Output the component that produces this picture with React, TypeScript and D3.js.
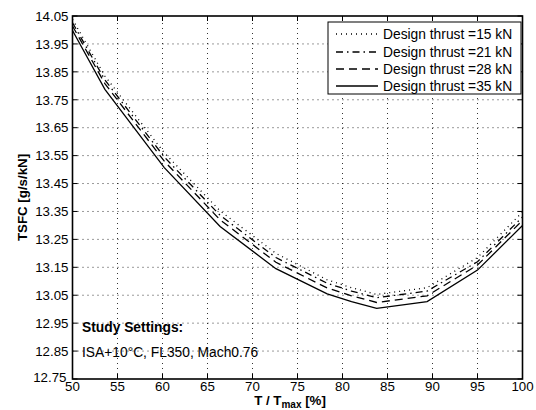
import React from "react";
import * as d3 from "d3";

const thrustPct = [50, 53.6, 60.2, 66.4, 72.6, 78.3, 81, 83.8, 89.4, 95, 100];
const tsfc15 = [14.038, 13.835, 13.56, 13.352, 13.2, 13.105, 13.077, 13.053, 13.077, 13.185, 13.348];
const tsfc21 = [14.026, 13.821, 13.545, 13.336, 13.185, 13.093, 13.065, 13.041, 13.065, 13.17, 13.33];
const tsfc28 = [14.014, 13.808, 13.53, 13.32, 13.168, 13.076, 13.048, 13.024, 13.048, 13.158, 13.318];
const tsfc35 = [13.998, 13.787, 13.507, 13.296, 13.145, 13.055, 13.027, 13.003, 13.027, 13.14, 13.3];

const seriesNames = ["Design thrust =15 kN", "Design thrust =21 kN", "Design thrust =28 kN", "Design thrust =35 kN"];
const seriesValues = [tsfc15, tsfc21, tsfc28, tsfc35];
const seriesDash = ["1,4", "7,4,1.5,4", "8,5", ""];

const xTicks = [50, 55, 60, 65, 70, 75, 80, 85, 90, 95, 100];
const yTicks = [12.75, 12.85, 12.95, 13.05, 13.15, 13.25, 13.35, 13.45, 13.55, 13.65, 13.75, 13.85, 13.95, 14.05];

const W = 536, H = 410;
const L = 72.5, R = 522.5, T = 16, B = 379;
const FONT = "'Liberation Sans', Arial, Helvetica, sans-serif";

export default function App() {
  const x = d3.scaleLinear().domain([50, 100]).range([L, R]);
  const y = d3.scaleLinear().domain([12.75, 14.05]).range([B, T]);
  const line = d3.line<number>().x((_, i) => x(thrustPct[i])).y((v) => y(v));
  const tickLen = 5;
  const legX = 328, legY = 22, legW = 193, legH = 72;
  const legRows = [34, 52, 69, 86];

  return (
    <svg width={W} height={H} style={{ position: "absolute", left: 0, top: 0, background: "#fff" }} fontFamily={FONT}>
      <rect x={0} y={0} width={W} height={H} fill="#fff" />
      {/* grid */}
      {xTicks.slice(1, -1).map((t) => (
        <line key={"gx" + t} x1={x(t)} x2={x(t)} y1={B} y2={T} stroke="#000" strokeWidth={0.8} strokeDasharray="1,4" />
      ))}
      {yTicks.slice(1, -1).map((t) => (
        <line key={"gy" + t} x1={L} x2={R} y1={y(t)} y2={y(t)} stroke="#000" strokeWidth={0.8} strokeDasharray="1,4" />
      ))}
      {/* ticks */}
      {xTicks.map((t) => (
        <g key={"tx" + t}>
          <line x1={x(t)} x2={x(t)} y1={B} y2={B - tickLen} stroke="#000" strokeWidth={1} />
          <line x1={x(t)} x2={x(t)} y1={T} y2={T + tickLen} stroke="#000" strokeWidth={1} />
          <text x={x(t)} y={B + 11.5} fontSize={13.3} textAnchor="middle">{t}</text>
        </g>
      ))}
      {yTicks.map((t) => (
        <g key={"ty" + t}>
          <line x1={L} x2={L + tickLen} y1={y(t)} y2={y(t)} stroke="#000" strokeWidth={1} />
          <line x1={R} x2={R - tickLen} y1={y(t)} y2={y(t)} stroke="#000" strokeWidth={1} />
          <text x={t === 12.75 ? L - 6 : L - 4} y={y(t) + (t === 12.75 ? 2.5 : 4.8)} fontSize={13.3} textAnchor="end">{t.toFixed(2)}</text>
        </g>
      ))}
      {/* curves */}
      {seriesValues.map((vals, i) => (
        <path key={"s" + i} d={line(vals) || ""} fill="none" stroke="#000" strokeWidth={1.3}
          strokeDasharray={seriesDash[i] || undefined} />
      ))}
      {/* frame */}
      <rect x={L} y={T} width={R - L} height={B - T} fill="none" stroke="#000" strokeWidth={1.6} />
      {/* legend */}
      <rect x={legX} y={legY} width={legW} height={legH} fill="#fff" stroke="#000" strokeWidth={1} />
      {seriesNames.map((n, i) => (
        <g key={"lg" + i}>
          <line x1={336} x2={378} y1={legRows[i]} y2={legRows[i]} stroke="#000" strokeWidth={1.3}
            strokeDasharray={seriesDash[i] || undefined} />
          <text x={383} y={legRows[i] + 4.8} fontSize={13.8}>{n}</text>
        </g>
      ))}
      {/* annotation */}
      <text x={82} y={332} fontSize={13.8} fontWeight="bold">Study Settings:</text>
      <text x={82} y={357} fontSize={13.8}>ISA+10°C, FL350, Mach0.76</text>
      {/* axis titles */}
      <text x={290} y={404.5} fontSize={13.3} fontWeight="bold" textAnchor="middle">
        T / T<tspan fontSize={10} dy={3.5}>max</tspan><tspan dy={-3.5}> [%]</tspan>
      </text>
      <text transform={`translate(27,${(T + B) / 2}) rotate(-90)`} fontSize={13.3} fontWeight="bold" textAnchor="middle">
        TSFC [g/s/kN]
      </text>
    </svg>
  );
}
